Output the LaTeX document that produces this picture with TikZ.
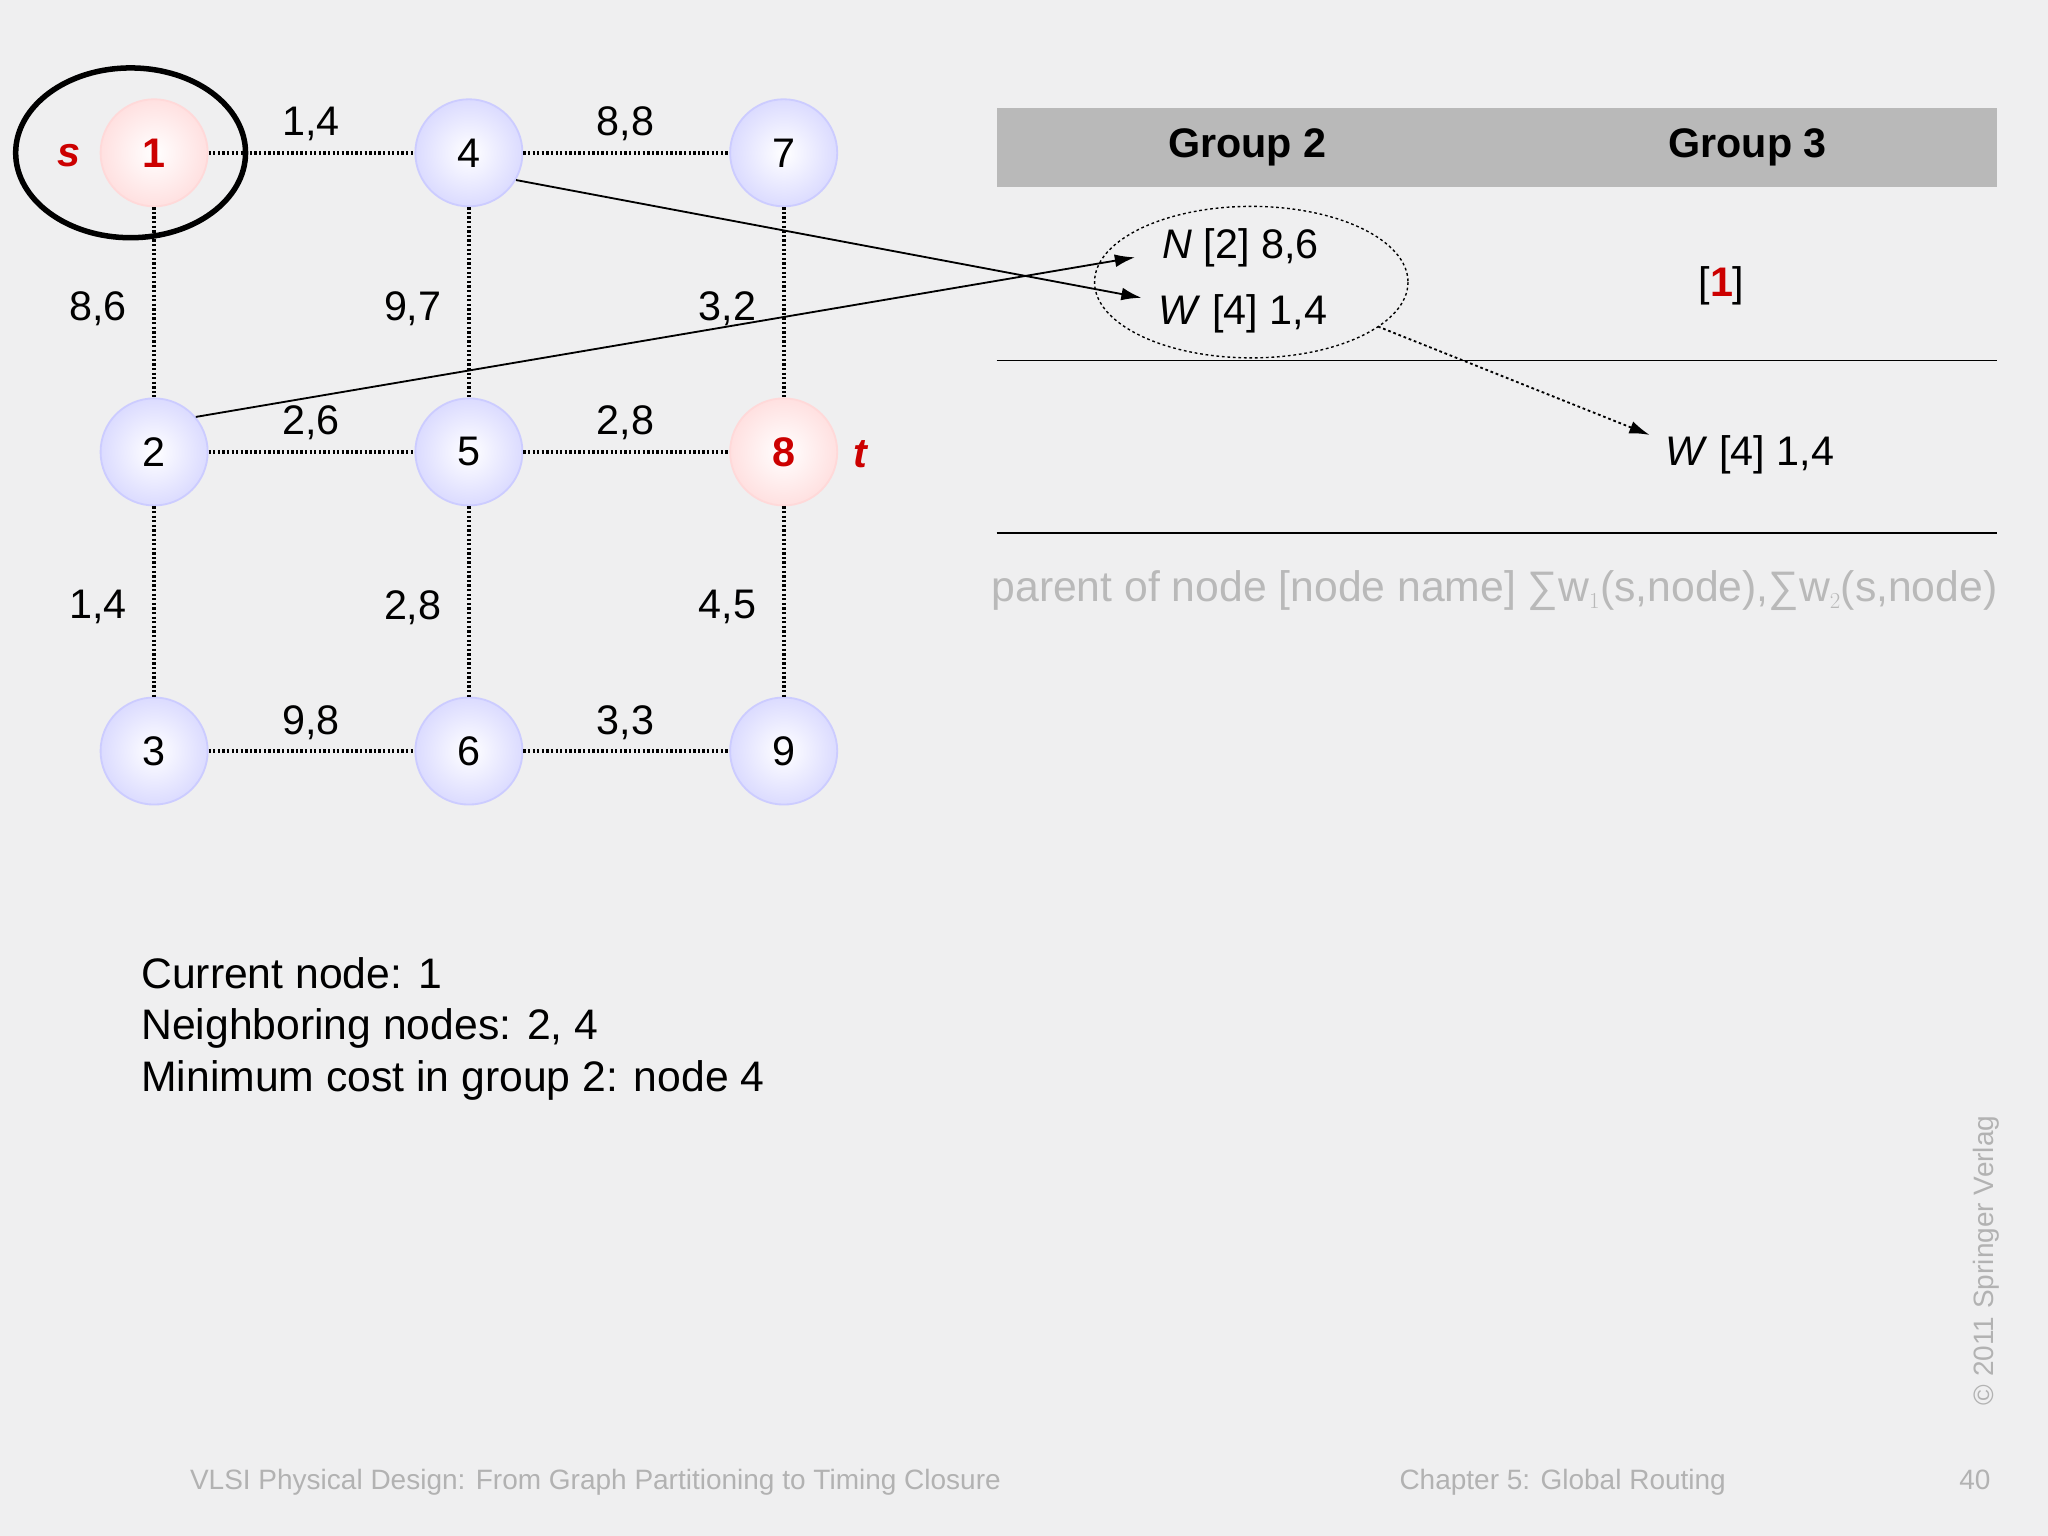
\documentclass[tikz,border=0pt]{standalone}
\usepackage{fontspec}
\setmainfont{Liberation Sans}
\usetikzlibrary{arrows.meta}
\definecolor{bg}{RGB}{239,239,240}
\definecolor{sred}{RGB}{204,0,0}
\begin{document}
\begin{tikzpicture}[x=0.05cm,y=-0.05cm,
 every node/.style={font=\fontsize{45}{54}\selectfont},
 vert/.style={circle,inner sep=0pt,draw=blue!20,line width=2pt,shading=radial,inner color=white,outer color=blue!14,minimum size=4.1cm},
 rvert/.style={vert,draw=red!15,outer color=red!12},
 edge/.style={line width=4.5pt,dash pattern=on 2.5pt off 2.5pt},
 lab/.style={inner sep=0pt},
 arr/.style={line width=2pt,-{Latex[length=22pt,width=14pt]}},
 foot/.style={text=gray!60,font=\fontsize{30.5}{34}\selectfont}]
\fill[bg] (0,0) rectangle (1568,1176);
\useasboundingbox (0,0) rectangle (1568,1176);
\node[rvert] (n1) at (118,117) {\textcolor{sred}{\textbf{1}}};
\node[vert] (n4) at (359,117) {4};
\node[vert] (n7) at (600,117) {7};
\node[vert] (n2) at (118,346) {2};
\node[vert] (n5) at (359,346) {5};
\node[rvert] (n8) at (600,346) {\textcolor{sred}{\textbf{8}}};
\node[vert] (n3) at (118,575) {3};
\node[vert] (n6) at (359,575) {6};
\node[vert] (n9) at (600,575) {9};
\draw[edge] (n1)--(n4); \draw[edge] (n4)--(n7);
\draw[edge] (n2)--(n5); \draw[edge] (n5)--(n8);
\draw[edge] (n3)--(n6); \draw[edge] (n6)--(n9);
\draw[edge] (n1)--(n2); \draw[edge] (n2)--(n3);
\draw[edge] (n4)--(n5); \draw[edge] (n5)--(n6);
\draw[edge] (n7)--(n8); \draw[edge] (n8)--(n9);
\node[lab] (l14) at (238,95) {1,4};
\node[lab] (l88) at (479,95) {8,8};
\node[lab] (l26) at (238,324) {2,6};
\node[lab] (l28) at (479,324) {2,8};
\node[lab] (l98) at (238,553) {9,8};
\node[lab] (l33) at (479,553) {3,3};
\node[lab] (l86) at (75,236) {8,6};
\node[lab] (l97) at (316,236) {9,7};
\node[lab] (l32) at (557,236) {3,2};
\node[lab] (l14b) at (75,465) {1,4};
\node[lab] (l28b) at (316,465) {2,8};
\node[lab] (l45) at (557,465) {4,5};
\node[lab,text=sred] (s) at (53,119) {\textbf{\textit{s}}};
\node[lab,text=sred] (t) at (659,348) {\textbf{\textit{t}}};
\draw[line width=6pt] (100,117) ellipse (88 and 65);
% table
\fill[gray!55] (763,83) rectangle (1529,143);
\node[lab] (g2) at (955,113) {\textbf{Group 2}};
\node[lab] (g3) at (1338,113) {\textbf{Group 3}};
\draw[line width=1.5pt] (763,276) -- (1529,276);
\draw[line width=1.5pt] (763,408) -- (1529,408);
\node[lab,anchor=west] (N2) at (890,190) {\textit{N} [2] 8,6};
\node[lab,anchor=west] (W4) at (887,240) {\textit{W} [4] 1,4};
\node[lab] (one) at (1318,219) {[\textcolor{sred}{\textbf{1}}]};
\node[lab,anchor=west] (W4b) at (1275,348) {\textit{W} [4] 1,4};
\draw[dashed,line width=1.5pt] (958,216) ellipse (120 and 58);
\coordinate (da) at (1055,250);
\coordinate (e1) at (874,228);
\coordinate (e2) at (869,197);
\coordinate (e3) at (1263,333);
\draw[dashed,arr] (da) -- (e3);
\draw[arr] (n4.-30) -- (e1);
\draw[arr] (n2.40) -- (e2);
\node[lab,text=gray!55,anchor=west,font=\fontsize{46.5}{54}\selectfont] (leg) at (759,452) {parent of node [node name] ∑w$_1$(s,node),∑w$_2$(s,node)};
\node[lab,anchor=north west,align=left,font=\fontsize{46.5}{56}\selectfont] (txt) at (108,733) {Current node: 1\\Neighboring nodes: 2, 4\\Minimum cost in group 2: node 4};
\node[foot,anchor=west] (f1) at (143,1135) {VLSI Physical Design: From Graph Partitioning to Timing Closure};
\node[foot,anchor=west] (f2) at (1069,1135) {Chapter 5: Global Routing};
\node[foot] (f3) at (1512,1133) {40};
\node[foot,rotate=90] (f4) at (1521,965) {\copyright\ 2011 Springer Verlag};
\end{tikzpicture}
\end{document}
